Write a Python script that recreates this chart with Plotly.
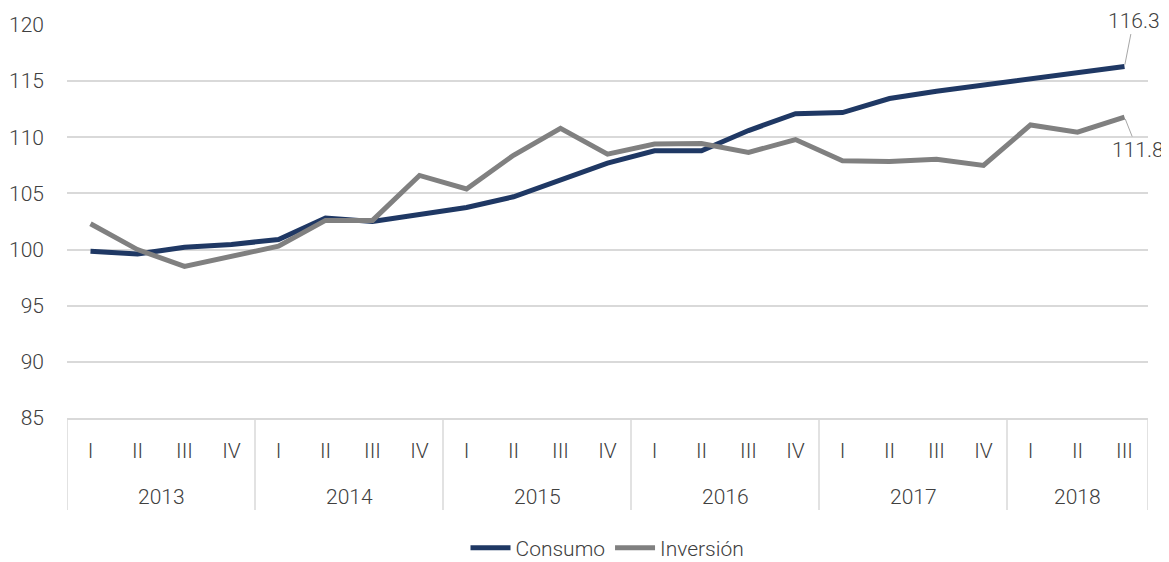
import plotly.graph_objects as go

years = ["2013"] * 4 + ["2014"] * 4 + ["2015"] * 4 + ["2016"] * 4 + ["2017"] * 4 + ["2018"] * 3
quarters = ["I", "II", "III", "IV"] * 5 + ["I", "II", "III"]

consumo = [99.85, 99.6, 100.2, 100.45, 100.9, 102.8, 102.5, 103.1, 103.75, 104.7, 106.2, 107.7,
           108.8, 108.8, 110.6, 112.1, 112.2, 113.45, 114.1, 114.65, 115.3, 115.8, 116.3]
inversion = [102.3, 100.0, 98.5, 99.45, 100.3, 102.6, 102.6, 106.6, 105.4, 108.4, 110.8, 108.5,
             109.4, 109.45, 108.65, 109.8, 107.9, 107.85, 108.05, 107.5, 111.1, 110.45, 111.8]

FONT = "Roboto, sans-serif"
TXT = "#404040"
GRID = "#d9d9d9"
FS = 21

keys = [f"{y}-{q}" for y, q in zip(years, quarters)]
n = len(keys)

fig = go.Figure()
fig.add_trace(go.Scatter(x=keys, y=consumo, mode="lines", name="Consumo",
                         line=dict(color="#1F3864", width=5)))
fig.add_trace(go.Scatter(x=keys, y=inversion, mode="lines", name="Inversión",
                         line=dict(color="#808080", width=5)))

# year groups: labels and dividers
groups = []
for i, y in enumerate(years):
    if not groups or groups[-1][0] != y:
        groups.append([y, i, i])
    else:
        groups[-1][2] = i

bounds = sorted({g[1] - 0.5 for g in groups} | {groups[-1][2] + 0.5})
for b in bounds:
    fig.add_shape(type="line", xref="x", yref="paper", x0=b, x1=b, y0=0, y1=-0.234,
                  line=dict(color=GRID, width=1.5), layer="below")
for y, s, e in groups:
    fig.add_annotation(x=(s + e) / 2, y=-0.201, xref="x", yref="paper", text=y, showarrow=False,
                       yanchor="middle", font=dict(family=FONT, size=FS, color=TXT, weight=300))

last = n - 1
fig.add_annotation(x=last, y=consumo[-1], text=f"{consumo[-1]:.1f}", showarrow=True,
                   arrowhead=0, arrowwidth=1, arrowcolor="#a6a6a6", ax=9, ay=-46, standoff=2,
                   font=dict(family=FONT, size=FS, color=TXT, weight=300))
fig.add_annotation(x=last, y=inversion[-1], text=f"{inversion[-1]:.1f}", showarrow=True,
                   arrowhead=0, arrowwidth=1, arrowcolor="#a6a6a6", ax=13, ay=33, standoff=2,
                   font=dict(family=FONT, size=FS, color=TXT, weight=300))

# page body has an 8px margin, so the figure is offset by 8px
fig.update_layout(
    width=1161, height=554,
    margin=dict(l=59, r=21, t=17, b=144, autoexpand=False),
    paper_bgcolor="white", plot_bgcolor="white",
    font=dict(family=FONT, size=FS, color=TXT, weight=300),
    showlegend=True,
    legend=dict(orientation="h", x=0.5, xanchor="center", yref="container", y=0.025,
                yanchor="middle", font=dict(family=FONT, size=FS, color=TXT, weight=300),
                tracegroupgap=0, itemwidth=40),
    xaxis=dict(type="category", showgrid=False, showline=True, linecolor=GRID,
               linewidth=1.5, ticks="", tickmode="array", tickvals=keys, ticktext=quarters,
               ticklabelstandoff=13, automargin=False,
               tickfont=dict(family=FONT, size=FS, color=TXT, weight=300), range=[-0.5, last + 0.5]),
    yaxis=dict(range=[85, 120], dtick=5, showgrid=True, gridcolor=GRID, gridwidth=1.5,
               zeroline=False, showline=False, ticklabelstandoff=22, automargin=False,
               tickfont=dict(family=FONT, size=FS, color=TXT, weight=300)),
)

fig.write_html("out.html")
